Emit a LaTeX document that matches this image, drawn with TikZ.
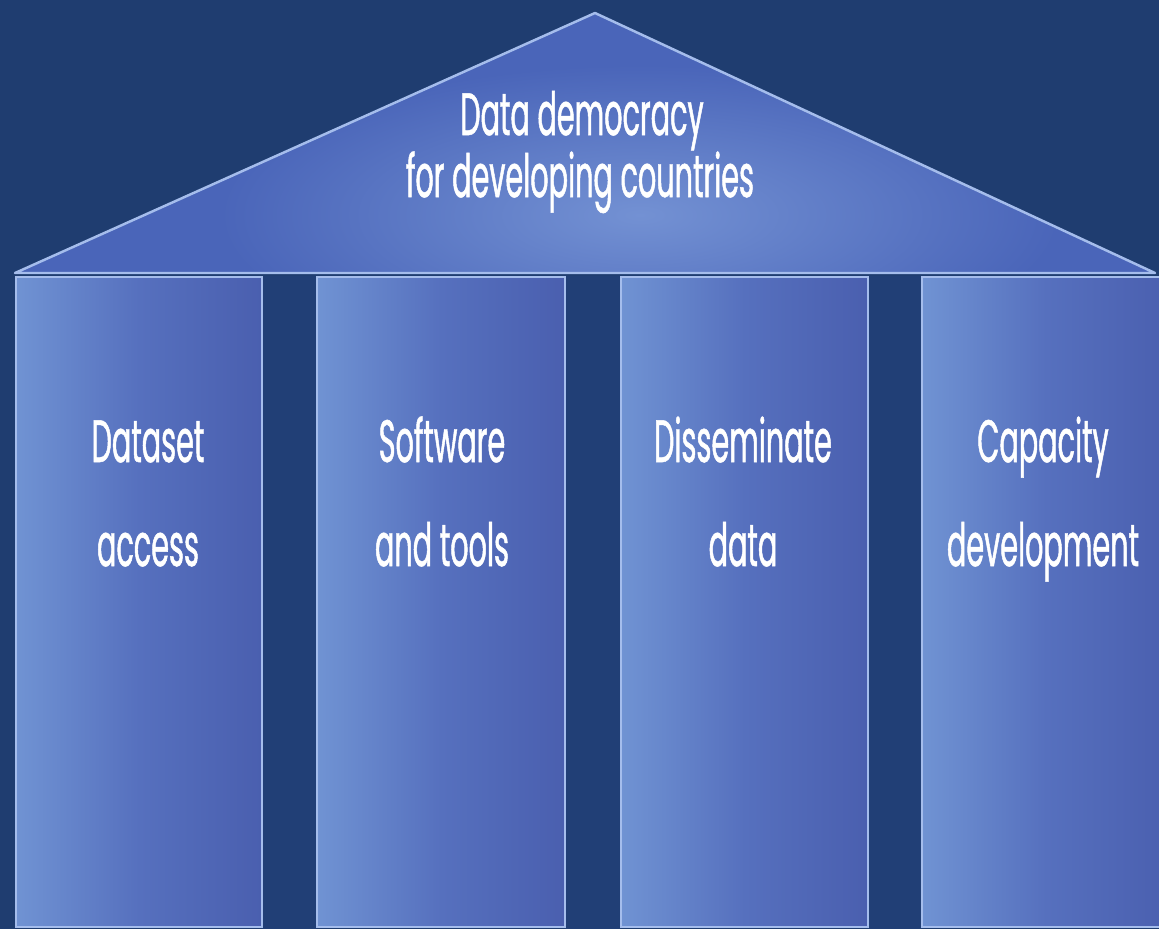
\documentclass[tikz,border=0pt]{standalone}
\usepackage{fontspec}
\newfontfamily\pillarfont[FakeStretch=0.48, FakeBold=0.8]{Poppins}
\usetikzlibrary{positioning}

\definecolor{navy}{HTML}{1F3D70}
\definecolor{gapblue}{HTML}{213F76}
\definecolor{pillarlight}{HTML}{7093D3}
\definecolor{pillarmid}{HTML}{5670BE}
\definecolor{pillardark}{HTML}{4A5FAF}
\definecolor{roofblue}{HTML}{4A65B9}
\definecolor{roofglow}{HTML}{7391D3}
\definecolor{rim}{HTML}{A5BDEC}

\begin{document}
\begin{tikzpicture}[x=0.01cm, y=-0.01cm,
    pillar/.style={draw=rim, line width=0.7pt, left color=pillarlight, right color=pillardark, middle color=pillarmid},
    caption/.style={text=white, anchor=base, inner sep=0pt, font=\pillarfont\fontsize{17}{18}\selectfont}]

  % background
  \fill[navy] (0,0) rectangle (1159,929);
  \useasboundingbox (0,0) rectangle (1159,929);

  % gaps between the pillars
  \fill[gapblue] (262,276) rectangle (317,929);
  \fill[gapblue] (565,276) rectangle (621,929);
  \fill[gapblue] (868,276) rectangle (922,929);

  % pillars
  \draw[pillar] (16,277) rectangle (262,927);
  \draw[pillar] (317,277) rectangle (565,927);
  \draw[pillar] (621,277) rectangle (868,927);
  \draw[pillar] (922,277) rectangle (1170,927);

  % roof
  \coordinate (eaveL) at (15,273);
  \coordinate (apex) at (595,13);
  \coordinate (eaveR) at (1155,273);
  \fill[roofblue] (eaveL) -- (apex) -- (eaveR) -- cycle;
  \begin{scope}
    \clip (eaveL) -- (apex) -- (eaveR) -- cycle;
    \shade[inner color=roofglow, outer color=roofblue] (640,215) ellipse (420 and 150);
  \end{scope}
  \draw[draw=rim, line width=0.7pt, line join=round] (eaveL) -- (apex) -- (eaveR) -- cycle;

  % roof text
  \node[caption] (title1) at (582,135) {Data democracy};
  \node[caption] (title2) at (580,197) {for developing countries};

  % pillar text
  \node[caption] (dataset) at (148,462) {Dataset};
  \node[caption] (access) at (148,566) {access};
  \node[caption] (software) at (442,462) {Software};
  \node[caption] (tools) at (442,566) {and tools};
  \node[caption] (dissem) at (743,462) {Disseminate};
  \node[caption] (data) at (743,566) {data};
  \node[caption] (capacity) at (1043,462) {Capacity};
  \node[caption] (develop) at (1043,566) {development};
\end{tikzpicture}
\end{document}
